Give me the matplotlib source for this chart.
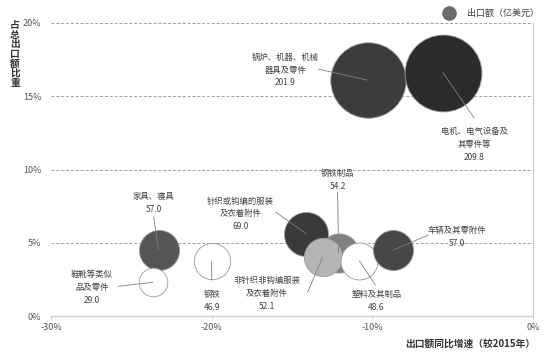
import matplotlib
matplotlib.use("Agg")
import matplotlib.pyplot as plt

plt.rcParams['font.family'] = ['Noto Sans CJK SC', 'DejaVu Sans']

# data: growth vs 2015 (%), share of total exports (%), export value (100M USD)
categories = ['锅炉、机器、机械\n器具及零件', '电机、电气设备及\n其零件等', '家具、寝具',
              '鞋靴等类似\n品及零件', '钢铁', '针织或钩编的服装\n及衣着附件', '钢铁制品',
              '非针织非钩编服装\n及衣着附件', '塑料及其制品', '车辆及其零附件']
growth = [-10.3, -5.6, -23.3, -23.65, -20.0, -14.1, -12.1, -13.1, -10.8, -8.7]
share = [16.1, 16.6, 4.5, 2.3, 3.75, 5.6, 4.3, 4.0, 3.75, 4.5]
export_value = [201.9, 209.8, 57.0, 29.0, 46.9, 69.0, 54.2, 52.1, 48.6, 57.0]

colors = ['#3c3c3c', '#2b2b2b', '#555555', 'white', 'white', '#3a3a3a',
          '#808080', '#b5b5b5', 'white', '#474747']
# label layout in pixels relative to bubble centre: (line end), (text centre)
label_offsets = [((-49, -11), (-82, -10)),
                 ((31, 45), (31, 72)),
                 ((-5, -33), (-5, -47)),
                 ((-35, 4), (-61, 5)),
                 ((0, 19), (0, 40)),
                 ((-31, -22), (-66, -20)),
                 ((-1, -61), (-1, -73)),
                 ((-15, 35), (-56, 36)),
                 ((16, 24), (17, 40)),
                 ((35, -15), (64, -13))]

yticks = [0, 5, 10, 15, 20]
xticks = [-30, -20, -10, 0]

fig = plt.figure(figsize=(5.5, 3.57), dpi=100)
ax = fig.add_axes([51 / 550, 41 / 357, 482 / 550, 293 / 357])
ax.set_xlim(-30, 0)
ax.set_ylim(0, 20)

for t in yticks[1:]:
    ax.axhline(t, color='#a0a0a0', lw=0.7, ls=(0, (3, 2)), zorder=0)

px2pt = 0.72
for i in range(len(categories)):
    ax.scatter(growth[i], share[i], s=14.6 * export_value[i], color=colors[i],
               edgecolor='#9a9a9a', linewidth=0.6, zorder=2 + i * 0.1, clip_on=False)

for i in range(len(categories)):
    (lx, ly), (tx, ty) = label_offsets[i]
    ax.annotate('', xy=(growth[i], share[i]), xytext=(lx * px2pt, -ly * px2pt),
                textcoords='offset points',
                arrowprops=dict(arrowstyle='-', color='#808080', lw=0.6,
                                shrinkA=0, shrinkB=0), zorder=5)
    ax.annotate(categories[i] + '\n' + f'{export_value[i]:.1f}',
                xy=(growth[i], share[i]), xytext=(tx * px2pt, -ty * px2pt),
                textcoords='offset points', ha='center', va='center',
                fontsize=6, color='#404040', linespacing=1.55, zorder=6)

ax.set_yticks(yticks)
ax.set_yticklabels([f'{t}%' for t in yticks])
ax.set_xticks(xticks)
ax.set_xticklabels([f'{t}%' for t in xticks])
ax.tick_params(axis='y', length=0, pad=7, labelsize=6.5, labelcolor='#555555')
ax.tick_params(axis='x', length=2, color='#cccccc', pad=3, labelsize=6.5,
               labelcolor='#555555')

ax.spines['top'].set_visible(False)
ax.spines['left'].set_visible(False)
ax.spines['bottom'].set_color('#d0d0d0')
ax.spines['bottom'].set_linewidth(1.0)
ax.spines['right'].set_color('#cccccc')
ax.spines['right'].set_linewidth(0.8)

# axis titles
fig.text(15 / 550, 1 - 20 / 357, '\n'.join('占总出口额比重'), ha='center', va='top',
         fontsize=7, fontweight='bold', color='#333333', linespacing=0.95)
fig.text(535 / 550, 1 - 344 / 357, '出口额同比增速（较2015年）', ha='right', va='center',
         fontsize=7, fontweight='bold', color='#333333')

# legend
ax.scatter([449 / 550], [1 - 13 / 357], s=90, color='#6b6b6b', transform=fig.transFigure,
           clip_on=False)
fig.text(467 / 550, 1 - 13 / 357, '出口额（亿美元）', ha='left', va='center',
         fontsize=6.5, color='#404040')

plt.savefig('out.png', dpi=100)
